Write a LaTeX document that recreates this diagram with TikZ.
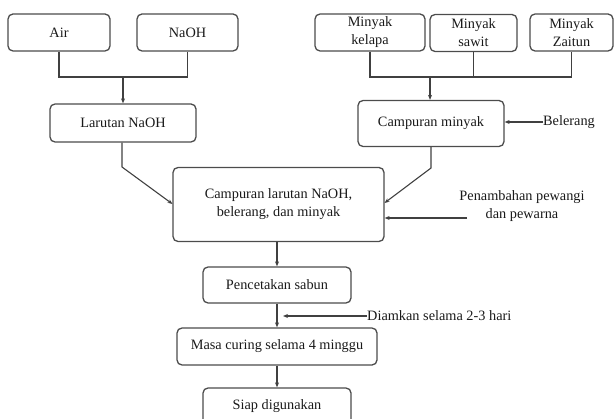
\documentclass[tikz,border=0pt]{standalone}
\usepackage{fontspec}
\setmainfont{Liberation Serif}
\usetikzlibrary{arrows.meta,calc}
\begin{document}
\begin{tikzpicture}[x=1pt,y=-1pt,
  box/.style={draw=black!70,line width=1.3pt,rounded corners=5pt,align=center,inner sep=0pt,
    font=\fontsize{14.3}{18}\selectfont,text=black!90},
  lbl/.style={inner sep=0pt,align=center,font=\fontsize{14.3}{18}\selectfont,text=black!90},
  ln/.style={draw=black!75,line width=1.1pt},
  arr/.style={ln,-{Stealth[length=5pt,width=4pt]}}]
\useasboundingbox (0,0) rectangle (615,419);
\node[box,minimum width=102pt,minimum height=37pt] (air) at (59,32.5) {Air};
\node[box,minimum width=101pt,minimum height=37pt] (naoh) at (187.5,32.5) {NaOH};
\node[box,minimum width=146pt,minimum height=38pt] (lar) at (123,123) {Larutan NaOH};
\node[box,minimum width=110pt,minimum height=37pt] (kel) at (370,32.5) {Minyak\\kelapa};
\node[box,minimum width=87pt,minimum height=37pt] (saw) at (473.5,33) {Minyak\\sawit};
\node[box,minimum width=83pt,minimum height=37pt] (zai) at (571.5,32.5) {Minyak\\Zaitun};
\node[box,minimum width=146pt,minimum height=46pt] (cmin) at (431,123.5) {Campuran minyak};
\node[lbl,anchor=west] (bel) at (543,122) {Belerang};
\node[box,minimum width=211pt,minimum height=74pt] (big) at (278.5,204.5) {Campuran larutan NaOH,\\belerang, dan minyak};
\node[lbl] (pw) at (522,206) {Penambahan pewangi\\dan pewarna};
\node[box,minimum width=148pt,minimum height=36pt] (pen) at (277,285) {Pencetakan sabun};
\node[lbl,anchor=west] (dm) at (367,316) {Diamkan selama 2-3 hari};
\node[box,minimum width=200pt,minimum height=37pt] (mas) at (277,346.5) {Masa curing selama 4 minggu};
\node[box,minimum width=148pt,minimum height=36pt] (siap) at (277,406) {Siap digunakan};
% junctions
\coordinate (j1) at (123,77);
\coordinate (j2) at (430,77);
\coordinate (k1) at (122,167);
\coordinate (k2) at (431,168);
\coordinate (t1) at (172.5,204);
\coordinate (t2) at (384.5,203);
\coordinate (pa) at (467,218);
\coordinate (dend) at (283,316);
% connectors
\draw[ln] (air.south) |- (j1) -| (naoh.south);
\draw[arr] (j1) -- (lar.north);
\draw[ln] (kel.south) |- (j2) -| (zai.south);
\draw[ln] (saw.south) -- (saw.south |- j2);
\draw[arr] (j2) -- (j2 |- cmin.north);
\draw[arr] (bel.west) -- (bel.west -| cmin.east);
\draw[arr] (lar.south -| k1) -- (k1) -- (t1);
\draw[arr] (cmin.south -| k2) -- (k2) -- (t2);
\draw[arr] (pa) -- (pa -| big.east);
\draw[arr] (big.south -| pen.north) -- (pen.north);
\draw[arr] (pen.south) -- (mas.north);
\draw[arr] (dm.west) -- (dend);
\draw[arr] (mas.south) -- (siap.north);
\end{tikzpicture}
\end{document}
